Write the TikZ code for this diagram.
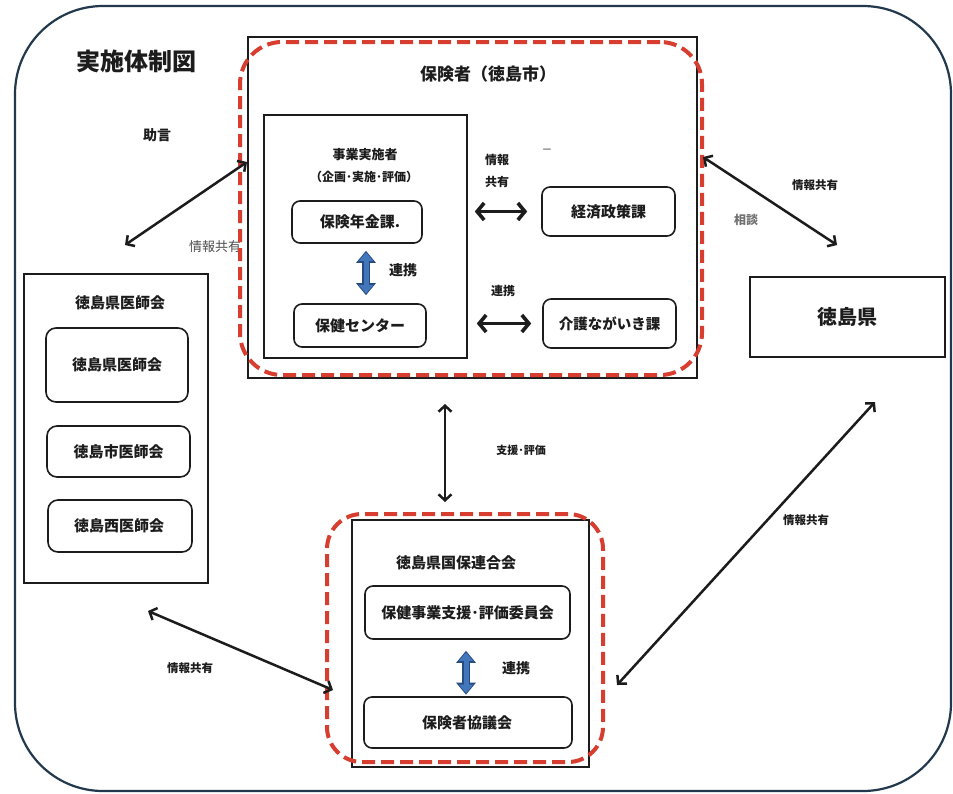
\documentclass[tikz,border=0pt]{standalone}
\usepackage{fontspec}
\setmainfont{Noto Sans CJK JP}
\usetikzlibrary{arrows.meta,calc}
\definecolor{framecol}{HTML}{22384D}
\definecolor{redc}{HTML}{D73E30}
\definecolor{bluefill}{HTML}{4277BC}
\definecolor{bluedark}{HTML}{264C82}
\definecolor{graytxt}{HTML}{707070}
\definecolor{inkc}{HTML}{1C1C1C}
\newcommand\fsz[1]{\fontsize{#1}{#1}\selectfont}
\begin{document}
\begin{tikzpicture}[x=1pt,y=-1pt,
  txt/.style={font=\bfseries\fsz{#1}, text=inkc, inner sep=0pt},
  txt/.default=15,
  frameline/.style={draw=framecol, line width=2.2pt, rounded corners=88pt},
  boxsq/.style={draw=inkc, line width=1.6pt},
  boxrd/.style={draw=inkc, line width=1.6pt, rounded corners=8pt},
  reddash/.style={draw=redc, line width=4pt, dash pattern=on 13pt off 6pt},
  arr/.style={draw=inkc, line width=2.5pt, {Straight Barb[length=6pt,width=13pt]}-{Straight Barb[length=6pt,width=13pt]}},
  arrthick/.style={draw=inkc, line width=3.6pt, {Straight Barb[length=7pt,width=17pt]}-{Straight Barb[length=7pt,width=17pt]}},
  bluearr/.style={draw=bluedark, line width=8.5pt, {Triangle[length=12pt,width=19pt]}-{Triangle[length=12pt,width=19pt]}},
  bluein/.style={draw=bluefill, line width=5pt, {Triangle[length=8.5pt,width=13.5pt]}-{Triangle[length=8.5pt,width=13.5pt]}}
]
\useasboundingbox (0,0) rectangle (953,793);
\fill[white] (0,0) rectangle (953,793);

% outer frame
\node[frameline, minimum width=936pt, minimum height=785pt] (frame) at (483,398.5) {};
\node[txt=24] (title) at (136,61) {実施体制図};

% ---------- Hokensha group ----------
\node[boxsq, minimum width=449pt, minimum height=341pt] (hokensha) at (472.5,207.5) {};
\node[txt=17] (hokenshaT) at (488,74) {保険者（徳島市）};
\node[boxsq, minimum width=203pt, minimum height=243pt] (jigyo) at (365.5,236.5) {};
\node[txt=13] (jigyoT1) at (365,155) {事業実施者};
\node[txt=12] (jigyoT2) at (364,177) {（企画･実施･評価）};
\node[boxrd, minimum width=130pt, minimum height=42pt] (nenkin) at (357,222) {};
\node[txt=15] (nenkinT) at (360,222) {保険年金課.};
\node[boxrd, minimum width=132pt, minimum height=43pt] (hoken) at (360,325.5) {};
\node[txt=15] (hokenT) at (360,325.5) {保健センター};
\node[txt=14] (renkei1) at (403,270) {連携};

\node[align=center, font=\bfseries\fontsize{12}{22}\selectfont, text=inkc, inner sep=0pt] (joho1) at (497,171) {情報\\共有};
\node[font=\fsz{16}, text=graytxt, inner sep=0pt] (dashmark) at (547,152) {−};
\node[boxrd, minimum width=133pt, minimum height=49pt] (keizai) at (608.5,211.5) {};
\node[txt=15] (keizaiT) at (608.5,211.5) {経済政策課};
\node[txt=12] (renkei2) at (503,291) {連携};
\node[boxrd, minimum width=133pt, minimum height=49pt] (kaigo) at (609.5,323.5) {};
\node[txt=14.5] (kaigoT) at (609.5,323.5) {介護ながいき課};

% gray label partly hidden by dashed frame
\node[font=\fsz{13}, text=graytxt!70!black, inner sep=0pt] (joho2) at (215,247) {情報共有};

\node[reddash, rounded corners=42pt, minimum width=462pt, minimum height=333pt] (hokenshaR) at (471,208.5) {};

% ---------- Tokushima pref ----------
\node[boxsq, minimum width=195pt, minimum height=80pt] (ken) at (847.5,317) {};
\node[txt=20] (kenT) at (847.5,317) {徳島県};
\node[txt=11.5] (joho3) at (815,185) {情報共有};
\node[font=\bfseries\fsz{12}, text=graytxt, inner sep=0pt] (sodan) at (746,220) {相談};

% ---------- Ishikai ----------
\node[boxsq, minimum width=184pt, minimum height=309pt] (ishikai) at (116,428.5) {};
\node[txt=15] (ishikaiT) at (120,303) {徳島県医師会};
\node[boxrd, rounded corners=10pt, minimum width=142pt, minimum height=74pt] (ken1) at (117,365) {};
\node[txt=15] (ken1T) at (117,365) {徳島県医師会};
\node[boxrd, rounded corners=10pt, minimum width=143pt, minimum height=51pt] (shi1) at (118.5,451.5) {};
\node[txt=15] (shi1T) at (118.5,452) {徳島市医師会};
\node[boxrd, rounded corners=10pt, minimum width=144pt, minimum height=52pt] (nishi1) at (120,526) {};
\node[txt=15] (nishi1T) at (119,526) {徳島西医師会};
\node[txt=14] (jogen) at (157,135) {助言};

% ---------- Kokuho ----------
\node[boxsq, minimum width=237pt, minimum height=247pt] (kokuho) at (470.5,643.5) {};
\node[txt=15] (kokuhoT) at (456,563) {徳島県国保連合会};
\node[boxrd, minimum width=205pt, minimum height=53pt] (iin) at (467.5,612.5) {};
\node[txt=15] (iinT) at (467.5,613) {保健事業支援･評価委員会};
\node[boxrd, minimum width=208pt, minimum height=51pt] (kyogi) at (468,722.5) {};
\node[txt=15] (kyogiT) at (467,723) {保険者協議会};
\node[txt=14] (renkei3) at (516,668) {連携};
\node[reddash, rounded corners=35pt, minimum width=276pt, minimum height=248pt] (kokuhoR) at (465,638) {};
\node[txt=11] (shien) at (521,450) {支援･評価};
\node[txt=11.5] (joho4) at (806,520) {情報共有};
\node[txt=11.5] (joho5) at (190,668) {情報共有};

% ---------- connectors ----------
\coordinate (aLs) at (247,162);
\coordinate (aLe) at (125,245);
\draw[arr] (aLs) -- (aLe);

\coordinate (aRs) at (703,157);
\coordinate (aRe) at (837,245);
\draw[arr] (aRs) -- (aRe);

\draw[arrthick] ([xshift=7pt]jigyo.east |- keizai.west) -- ([xshift=-14pt]keizai.west);
\draw[arrthick] ([xshift=9pt]jigyo.east |- kaigo.west) -- ([xshift=-11pt]kaigo.west);

\coordinate (aVs) at (445,404);
\coordinate (aVe) at (445,502);
\draw[arr] (aVs) -- (aVe);

\coordinate (aBRs) at (617,685);
\coordinate (aBRe) at (875,402);
\draw[arr] (aBRs) -- (aBRe);

\coordinate (aBLs) at (148,611);
\coordinate (aBLe) at (333,690);
\draw[arr] (aBLs) -- (aBLe);

% blue links
\draw[bluearr, shorten <=7pt, shorten >=8pt] ([xshift=9pt]nenkin.south) -- ([xshift=6pt]hoken.north);
\draw[bluein, shorten <=8.5pt, shorten >=9.5pt] ([xshift=9pt]nenkin.south) -- ([xshift=6pt]hoken.north);
\draw[bluearr, shorten <=11pt, shorten >=1.5pt] ([xshift=-1.5pt]iin.south) -- ([xshift=-2pt]kyogi.north);
\draw[bluein, shorten <=12.5pt, shorten >=3pt] ([xshift=-1.5pt]iin.south) -- ([xshift=-2pt]kyogi.north);
\end{tikzpicture}
\end{document}
